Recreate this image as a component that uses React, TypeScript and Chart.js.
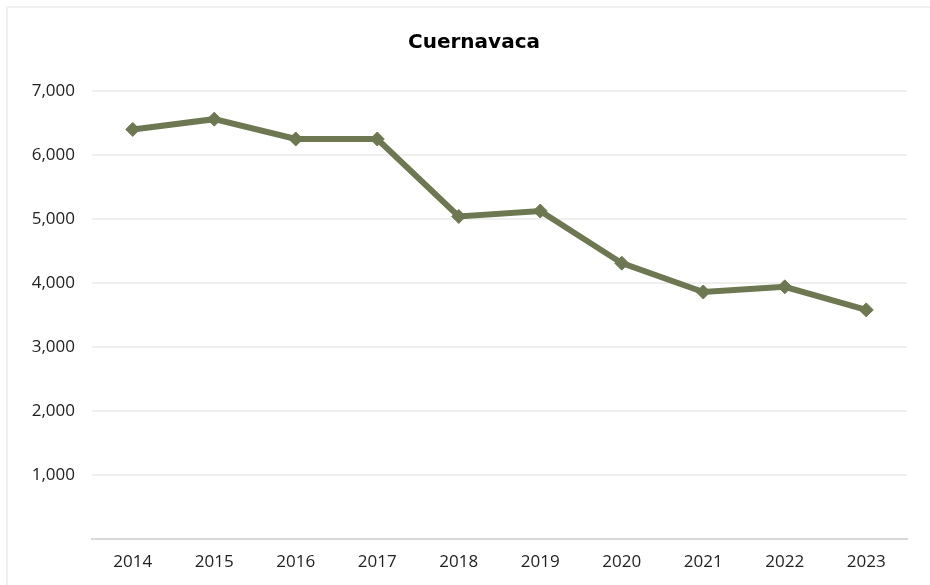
import React, { useEffect, useRef } from "react";
import { Chart, registerables } from "chart.js";

Chart.register(...registerables);

const chartTitle = "Cuernavaca";
const years = ["2014", "2015", "2016", "2017", "2018", "2019", "2020", "2021", "2022", "2023"];
const values = [6400, 6560, 6250, 6250, 5040, 5125, 4310, 3860, 3940, 3580];
const yMin = 0;
const yMax = 7000;
const yStep = 1000;

const titlePlugin = {
  id: "centeredTitle",
  afterDraw(chart: any) {
    const ctx = chart.ctx;
    ctx.save();
    ctx.font = "bold 20px 'DejaVu Sans', sans-serif";
    ctx.fillStyle = "#000000";
    ctx.textAlign = "center";
    ctx.textBaseline = "middle";
    ctx.fillText(chartTitle, 474, 43);
    ctx.restore();
  },
};

export default function App() {
  const ref = useRef<HTMLCanvasElement | null>(null);

  useEffect(() => {
    if (!ref.current) return;
    const chart = new Chart(ref.current, {
      type: "line",
      data: {
        labels: years,
        datasets: [
          {
            label: chartTitle,
            data: values,
            borderColor: "#6d7853",
            backgroundColor: "#6d7853",
            borderWidth: 6,
            pointStyle: "rectRot",
            pointRadius: 7,
            pointBackgroundColor: "#6d7853",
            pointBorderColor: "#6d7853",
            pointBorderWidth: 1,
            tension: 0,
          },
        ],
      },
      plugins: [titlePlugin],
      options: {
        animation: false,
        responsive: true,
        maintainAspectRatio: false,
        layout: { padding: { top: 91, right: 23, bottom: 0, left: 0 } },
        plugins: {
          legend: { display: false },
          tooltip: { enabled: false },
          title: { display: false },
        },
        scales: {
          x: {
            offset: true,
            grid: { display: false, drawTicks: false, offset: true },
            border: { display: true, color: "#d9d9d9", width: 2 },
            ticks: {
              color: "#222222",
              font: { family: "'Open Sans', sans-serif", size: 17 },
              padding: 13,
            },
            afterFit: (s: any) => {
              s.height = 46;
            },
          },
          y: {
            min: yMin,
            max: yMax,
            grid: { color: "#efefef", lineWidth: 2, drawTicks: false },
            border: { display: false },
            ticks: {
              stepSize: yStep,
              color: "#222222",
              font: { family: "'Open Sans', sans-serif", size: 17 },
              padding: 17,
              callback: (v: any) => (Number(v) === 0 ? "" : Number(v).toLocaleString("en-US")),
            },
            afterFit: (s: any) => {
              s.width = 92;
            },
          },
        },
      },
    });
    return () => chart.destroy();
  }, []);

  return (
    <>
      <div
        style={{
          position: "fixed",
          left: 6,
          top: 6,
          width: 940,
          height: 600,
          border: "2px solid #f0f0f0",
          boxSizing: "border-box",
          background: "#ffffff",
        }}
      />
      <div style={{ position: "fixed", left: 0, top: 0, width: 930, height: 585 }}>
        <canvas ref={ref} />
      </div>
    </>
  );
}
